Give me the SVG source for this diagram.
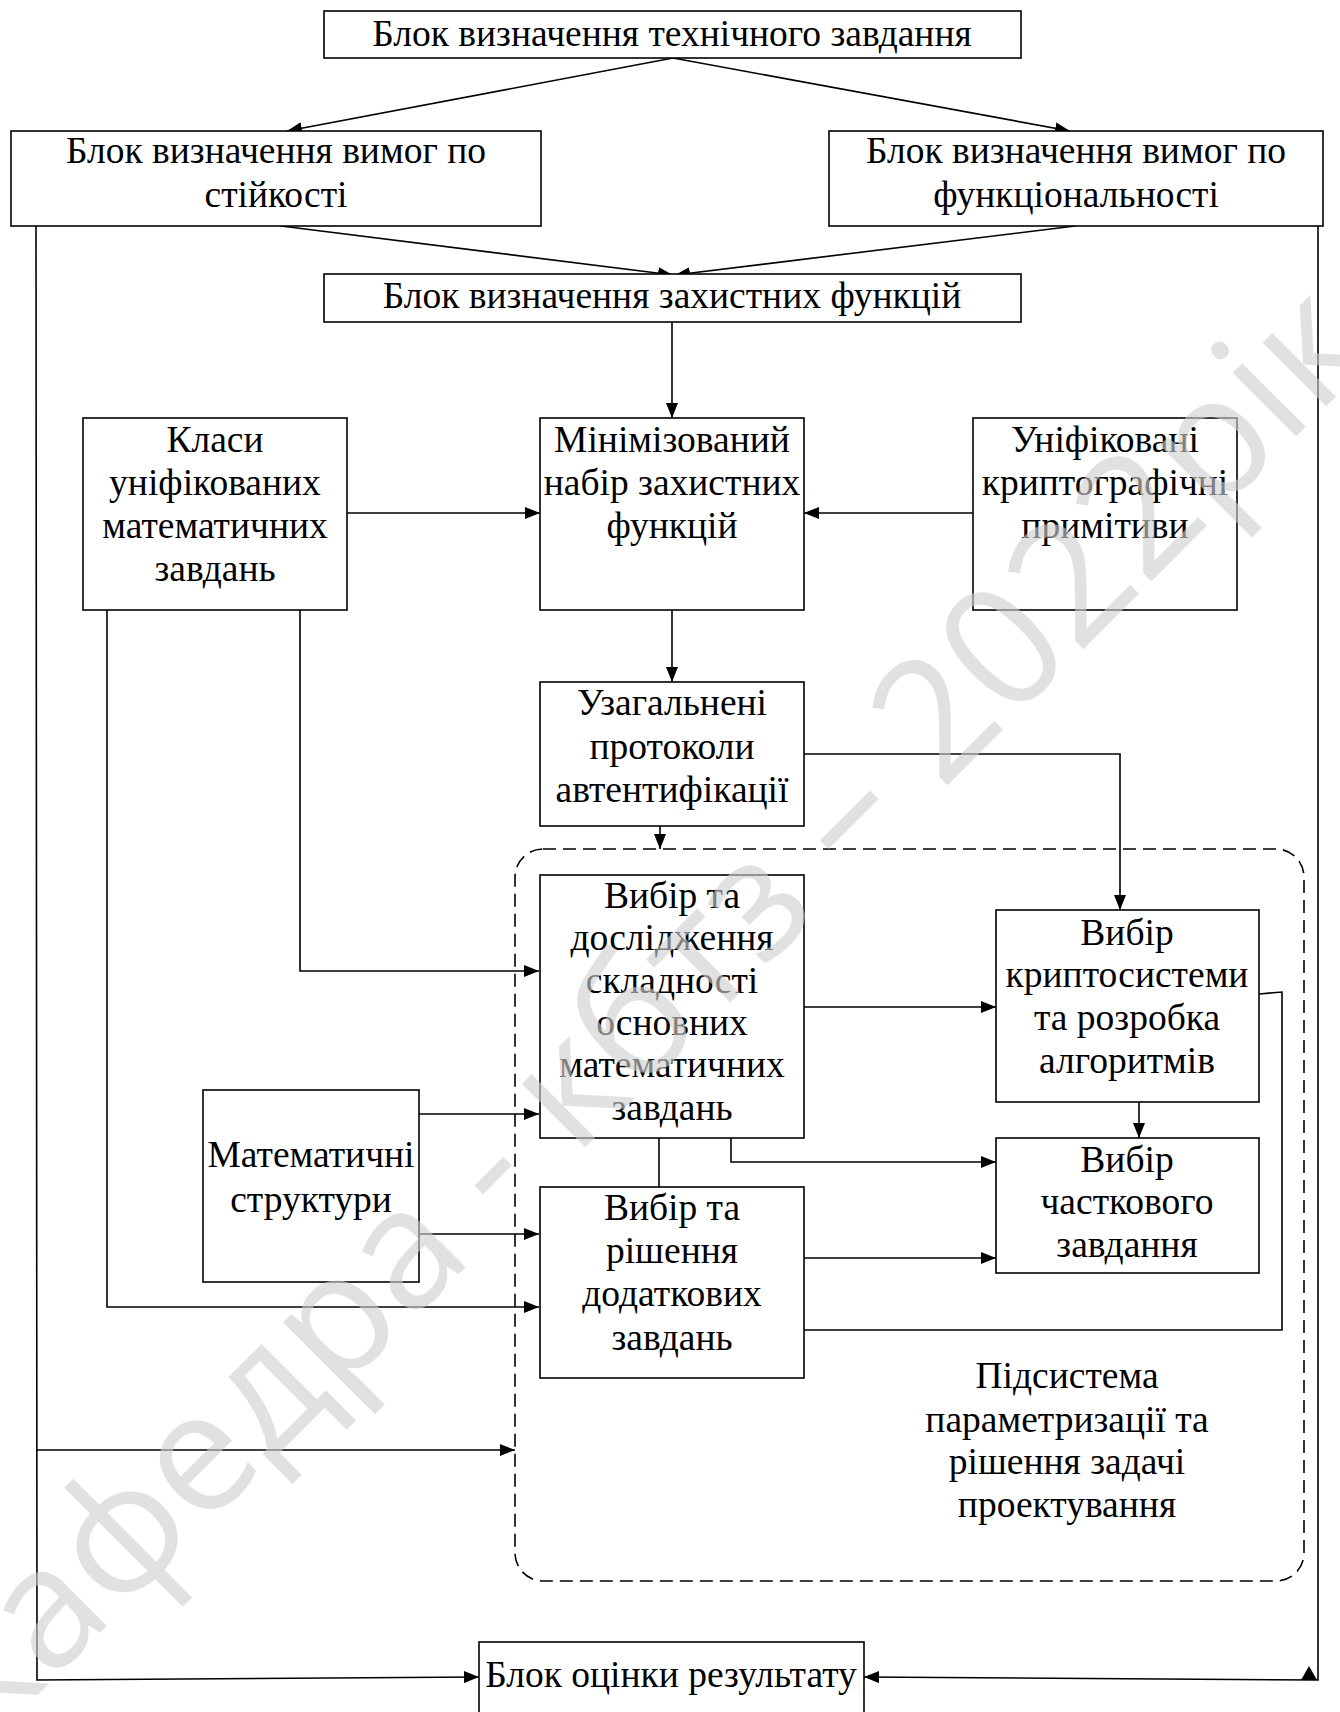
<svg xmlns="http://www.w3.org/2000/svg" width="1340" height="1712" viewBox="0 0 1340 1712">
  <style>
    .box { fill: #fff; stroke: #000; stroke-width: 1.6; }
    .ln { fill: none; stroke: #000; stroke-width: 1.6; }
    .dash { fill: none; stroke: #000; stroke-width: 1.6; stroke-dasharray: 13 7; }
    .t { font-family: "Liberation Serif", "Times New Roman", serif; font-size: 37.5px; fill: #000; text-anchor: middle; }
    .wm { font-family: "Open Sans", "Noto Sans", sans-serif; font-size: 168px; fill: #cecece; fill-opacity: 0.62; text-anchor: middle; dominant-baseline: central; }
  </style>
  <defs>
    <marker id="arr" markerUnits="userSpaceOnUse" markerWidth="15" markerHeight="12" refX="15" refY="6" orient="auto">
      <path d="M0,0 L15,6 L0,12 z" fill="#000"/>
    </marker>
  </defs>
  <rect width="1340" height="1712" fill="#fff"/>

  <!-- subsystem frame -->
  <g id="subsystem">
    <rect class="dash" x="515" y="849" width="789" height="732" rx="28" ry="28"/>
    <text class="t" x="1067" y="1388">Підсистема</text>
    <text class="t" x="1067" y="1432">параметризації та</text>
    <text class="t" x="1067" y="1474">рішення задачі</text>
    <text class="t" x="1067" y="1517">проектування</text>
  </g>

  <!-- connectors -->
  <g id="connectors">
    <line class="ln" x1="673" y1="58" x2="287" y2="131" marker-end="url(#arr)"/>
    <line class="ln" x1="673" y1="58" x2="1070" y2="131" marker-end="url(#arr)"/>
    <line class="ln" x1="281" y1="226" x2="673" y2="275" marker-end="url(#arr)"/>
    <line class="ln" x1="1075" y1="226" x2="675" y2="275" marker-end="url(#arr)"/>
    <line class="ln" x1="672" y1="322" x2="672" y2="418" marker-end="url(#arr)"/>
    <line class="ln" x1="347" y1="513" x2="540" y2="513" marker-end="url(#arr)"/>
    <line class="ln" x1="973" y1="513" x2="804" y2="513" marker-end="url(#arr)"/>
    <line class="ln" x1="672" y1="610" x2="672" y2="682" marker-end="url(#arr)"/>
    <polyline class="ln" points="804,754 1120,754 1120,910" marker-end="url(#arr)"/>
    <line class="ln" x1="660" y1="826" x2="660" y2="849" marker-end="url(#arr)"/>
    <polyline class="ln" points="300,610 300,971 539,971" marker-end="url(#arr)"/>
    <polyline class="ln" points="107,610 107,1307 539,1307" marker-end="url(#arr)"/>
    <line class="ln" x1="419" y1="1114" x2="539" y2="1114" marker-end="url(#arr)"/>
    <line class="ln" x1="419" y1="1234" x2="539" y2="1234" marker-end="url(#arr)"/>
    <line class="ln" x1="804" y1="1007" x2="996" y2="1007" marker-end="url(#arr)"/>
    <polyline class="ln" points="731,1138 731,1162 996,1162" marker-end="url(#arr)"/>
    <line class="ln" x1="659" y1="1138" x2="659" y2="1187"/>
    <line class="ln" x1="1139" y1="1102" x2="1139" y2="1138" marker-end="url(#arr)"/>
    <line class="ln" x1="804" y1="1258" x2="996" y2="1258" marker-end="url(#arr)"/>
    <polyline class="ln" points="1259,994 1282,992 1282,1330 804,1330"/>
    <polyline class="ln" points="36,226 37,1680 479,1677" marker-end="url(#arr)"/>
    <line class="ln" x1="36" y1="1450" x2="515" y2="1450" marker-end="url(#arr)"/>
    <polyline class="ln" points="1318,226 1318,1680 864,1677" marker-end="url(#arr)"/>
    <path d="M1301,1680 L1309,1666 L1317,1680 z" fill="#000"/>
  </g>

  <g id="tech-task">
    <rect class="box" x="324" y="11" width="697" height="47"/>
    <text class="t" x="672" y="46">Блок визначення технічного завдання</text>
  </g>
  <g id="stability-req">
    <rect class="box" x="11" y="131" width="530" height="95"/>
    <text class="t" x="276" y="163">Блок визначення вимог по</text>
    <text class="t" x="276" y="207">стійкості</text>
  </g>
  <g id="function-req">
    <rect class="box" x="829" y="131" width="494" height="95"/>
    <text class="t" x="1076" y="163">Блок визначення вимог по</text>
    <text class="t" x="1076" y="207">функціональності</text>
  </g>
  <g id="protect-func">
    <rect class="box" x="324" y="274" width="697" height="48"/>
    <text class="t" x="672" y="308">Блок визначення захистних функцій</text>
  </g>
  <g id="math-classes">
    <rect class="box" x="83" y="418" width="264" height="192"/>
    <text class="t" x="215" y="452">Класи</text>
    <text class="t" x="215" y="495">уніфікованих</text>
    <text class="t" x="215" y="538">математичних</text>
    <text class="t" x="215" y="581">завдань</text>
  </g>
  <g id="min-set">
    <rect class="box" x="540" y="418" width="264" height="192"/>
    <text class="t" x="672" y="452">Мінімізований</text>
    <text class="t" x="672" y="495">набір захистних</text>
    <text class="t" x="672" y="538">функцій</text>
  </g>
  <g id="crypto-prim">
    <rect class="box" x="973" y="418" width="264" height="192"/>
    <text class="t" x="1105" y="452">Уніфіковані</text>
    <text class="t" x="1105" y="495">криптографічні</text>
    <text class="t" x="1105" y="538">примітиви</text>
  </g>
  <g id="auth-proto">
    <rect class="box" x="540" y="682" width="264" height="144"/>
    <text class="t" x="672" y="715">Узагальнені</text>
    <text class="t" x="672" y="759">протоколи</text>
    <text class="t" x="672" y="802">автентифікації</text>
  </g>
  <g id="main-tasks">
    <rect class="box" x="540" y="875" width="264" height="263"/>
    <text class="t" x="672" y="908">Вибір та</text>
    <text class="t" x="672" y="950">дослідження</text>
    <text class="t" x="672" y="993">складності</text>
    <text class="t" x="672" y="1035">основних</text>
    <text class="t" x="672" y="1077">математичних</text>
    <text class="t" x="672" y="1120">завдань</text>
  </g>
  <g id="cryptosystem">
    <rect class="box" x="996" y="910" width="263" height="192"/>
    <text class="t" x="1127" y="945">Вибір</text>
    <text class="t" x="1127" y="987">криптосистеми</text>
    <text class="t" x="1127" y="1030">та розробка</text>
    <text class="t" x="1127" y="1073">алгоритмів</text>
  </g>
  <g id="partial-task">
    <rect class="box" x="996" y="1138" width="263" height="135"/>
    <text class="t" x="1127" y="1172">Вибір</text>
    <text class="t" x="1127" y="1214">часткового</text>
    <text class="t" x="1127" y="1257">завдання</text>
  </g>
  <g id="math-struct">
    <rect class="box" x="203" y="1090" width="216" height="192"/>
    <text class="t" x="311" y="1167">Математичні</text>
    <text class="t" x="311" y="1212">структури</text>
  </g>
  <g id="extra-tasks">
    <rect class="box" x="540" y="1187" width="264" height="191"/>
    <text class="t" x="672" y="1220">Вибір та</text>
    <text class="t" x="672" y="1263">рішення</text>
    <text class="t" x="672" y="1306">додаткових</text>
    <text class="t" x="672" y="1350">завдань</text>
  </g>
  <g id="evaluation">
    <rect class="box" x="479" y="1642" width="385" height="80"/>
    <text class="t" x="671" y="1687">Блок оцінки результату</text>
  </g>

  <!-- watermark -->
  <text class="wm" transform="translate(637 1003) rotate(-45)">кафедра - кбтз – 2022рік</text>
</svg>
